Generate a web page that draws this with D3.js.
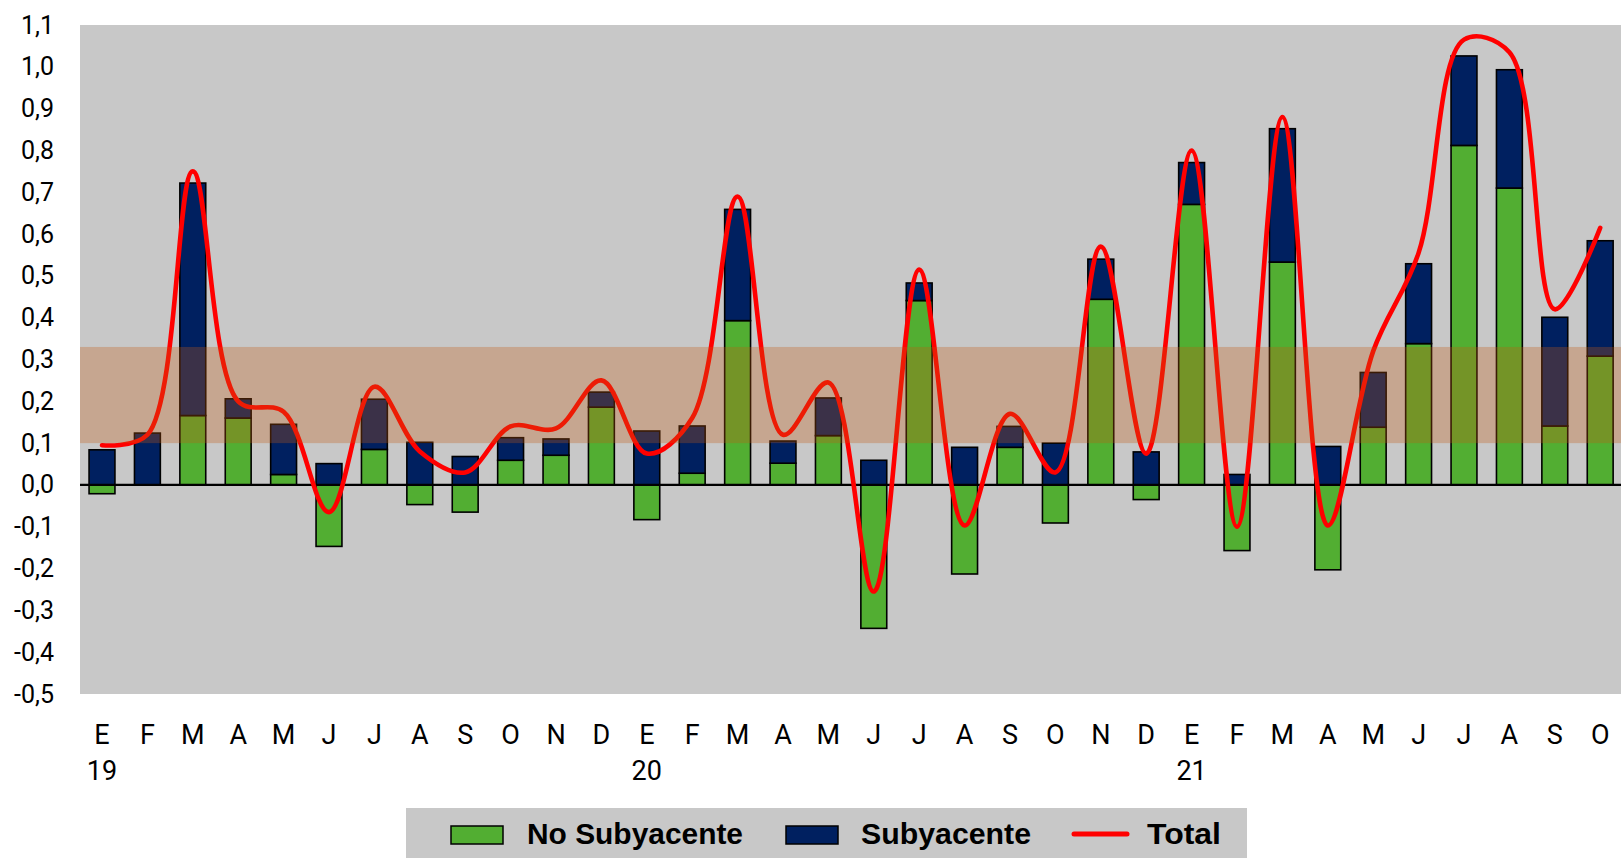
<!DOCTYPE html>
<html>
<head>
<meta charset="utf-8">
<title>Inflación: contribuciones</title>
<style>
  body { margin: 0; background: #fff; }
  svg { display: block; font-family: Roboto, "Noto Sans", sans-serif; }
  .axis text { fill: #000; }
  .legend text { font-family: "Liberation Sans Narrow", "Arial Narrow", "Liberation Sans", sans-serif; font-weight: bold; }
</style>
</head>
<body>
<svg width="1621" height="858"></svg>
<script src="https://cdn.jsdelivr.net/npm/d3@7"></script>
<script>

// months E19 .. O21
var months = ["E","F","M","A","M","J","J","A","S","O","N","D",
              "E","F","M","A","M","J","J","A","S","O","N","D",
              "E","F","M","A","M","J","J","A","S","O"];
var years = ["19", "20", "21"];
var yearIndex = [0, 12, 24];

var noSubyacente = [-0.021, 0.000, 0.166, 0.160, 0.025, -0.147, 0.085, -0.047, -0.065, 0.059, 0.071, 0.186,
                    -0.083, 0.028, 0.393, 0.052, 0.118, -0.343, 0.441, -0.213, 0.090, -0.091, 0.444, -0.035,
                    0.671, -0.157, 0.533, -0.203, 0.138, 0.338, 0.812, 0.710, 0.141, 0.308];
var subyacente   = [0.084, 0.124, 0.556, 0.046, 0.120, 0.051, 0.120, 0.102, 0.068, 0.054, 0.039, 0.036,
                    0.129, 0.113, 0.266, 0.053, 0.090, 0.059, 0.042, 0.090, 0.050, 0.100, 0.096, 0.079,
                    0.100, 0.025, 0.319, 0.092, 0.131, 0.191, 0.214, 0.283, 0.260, 0.276];
var total        = [0.095, 0.120, 0.750, 0.200, 0.175, -0.065, 0.235, 0.080, 0.030, 0.140, 0.135, 0.250,
                    0.075, 0.160, 0.690, 0.120, 0.245, -0.255, 0.515, -0.097, 0.170, 0.030, 0.570, 0.075,
                    0.800, -0.100, 0.880, -0.097, 0.320, 0.555, 1.065, 1.035, 0.420, 0.615];

var yTicks = [-0.5, -0.4, -0.3, -0.2, -0.1, 0.0, 0.1, 0.2, 0.3, 0.4, 0.5, 0.6, 0.7, 0.8, 0.9, 1.0, 1.1];
var targetRange = [0.1, 0.33];

var svg = d3.select("svg"),
    plot = {left: 80, right: 1621, top: 25, bottom: 694};

var green = "#52ae32", navy = "#002060", grey = "#c8c8c8";

var x = d3.scaleBand()
    .domain(d3.range(months.length))
    .range([79.3, 1622.9])
    .paddingInner(0.43)
    .paddingOuter(0.215);

var y = d3.scaleLinear()
    .domain([-0.5, 1.1])
    .range([plot.bottom, plot.top]);

var es = d3.formatLocale({decimal: ",", thousands: ".", grouping: [3], currency: ["", ""], minus: "-"});
var fmt = es.format(".1f");

// plot background
svg.append("rect")
    .attr("x", plot.left)
    .attr("y", plot.top)
    .attr("width", plot.right - plot.left)
    .attr("height", plot.bottom - plot.top)
    .attr("fill", grey);

// stacked bars
var table = months.map(function(m, i) {
  return {i: i, noSub: noSubyacente[i], sub: subyacente[i]};
});
var series = d3.stack()
    .keys(["noSub", "sub"])
    .offset(d3.stackOffsetDiverging)(table);
var colour = {noSub: green, sub: navy};

svg.append("g")
  .selectAll("g")
  .data(series)
  .join("g")
    .attr("fill", function(d) { return colour[d.key]; })
  .selectAll("rect")
  .data(function(d) { return d; })
  .join("rect")
    .attr("x", function(d) { return x(d.data.i); })
    .attr("y", function(d) { return y(Math.max(d[0], d[1])); })
    .attr("width", x.bandwidth())
    .attr("height", function(d) { return Math.abs(y(d[0]) - y(d[1])); })
    .attr("stroke", "#000")
    .attr("stroke-width", 1.6);

// zero line
svg.append("line")
    .attr("x1", plot.left)
    .attr("x2", plot.right)
    .attr("y1", y(0))
    .attr("y2", y(0))
    .attr("stroke", "#000")
    .attr("stroke-width", 2.2);

// total, smoothed
var line = d3.line()
    .x(function(d, i) { return x(i) + x.bandwidth() / 2; })
    .y(function(d) { return y(d); })
    .curve(d3.curveCatmullRom.alpha(0.5));

svg.append("path")
    .datum(total)
    .attr("d", line)
    .attr("fill", "none")
    .attr("stroke", "#ff0000")
    .attr("stroke-width", 4.6)
    .attr("stroke-linecap", "round");

// target band, laid over everything
svg.append("rect")
    .attr("x", plot.left)
    .attr("width", plot.right - plot.left)
    .attr("y", y(targetRange[1]))
    .attr("height", y(targetRange[0]) - y(targetRange[1]))
    .attr("fill", "#c55a11")
    .attr("fill-opacity", 0.3);

// y axis labels
svg.append("g")
    .attr("class", "axis")
    .attr("transform", "translate(" + plot.left + ",0)")
    .call(d3.axisLeft(y).tickValues(yTicks).tickFormat(fmt).tickSize(0).tickPadding(26))
    .call(function(g) { g.select(".domain").remove(); })
    .selectAll("text")
    .attr("font-family", "Roboto, sans-serif")
    .attr("font-size", 25);

// x axis labels
svg.append("g")
    .attr("class", "axis")
    .attr("transform", "translate(0," + plot.bottom + ")")
    .call(d3.axisBottom(x).tickFormat(function(i) { return months[i]; }).tickSize(0).tickPadding(31))
    .call(function(g) { g.select(".domain").remove(); })
    .selectAll("text")
    .attr("font-family", "Roboto, sans-serif")
    .attr("font-size", 27);

svg.append("g")
    .attr("class", "axis")
  .selectAll("text")
  .data(years)
  .join("text")
    .attr("x", function(d, k) { return x(yearIndex[k]) + x.bandwidth() / 2; })
    .attr("y", 780)
    .attr("text-anchor", "middle")
    .attr("font-family", "Roboto, sans-serif")
    .attr("font-size", 27)
    .text(function(d) { return d; });

// legend
var legend = svg.append("g").attr("class", "legend");

legend.append("rect")
    .attr("x", 406)
    .attr("y", 808)
    .attr("width", 841)
    .attr("height", 50)
    .attr("fill", grey);

var items = [
  {name: "No Subyacente", kind: "bar", fill: green, sx: 451, tx: 527, tw: 216},
  {name: "Subyacente", kind: "bar", fill: navy, sx: 786, tx: 861, tw: 170},
  {name: "Total", kind: "line", fill: "#ff0000", sx: 1074, tx: 1147, tw: 74}
];

items.forEach(function(it) {
  if (it.kind === "bar") {
    legend.append("rect")
        .attr("x", it.sx)
        .attr("y", 826)
        .attr("width", 52)
        .attr("height", 18)
        .attr("fill", it.fill)
        .attr("stroke", "#000")
        .attr("stroke-width", 1.5);
  } else {
    legend.append("line")
        .attr("x1", it.sx)
        .attr("x2", it.sx + 53)
        .attr("y1", 834)
        .attr("y2", 834)
        .attr("stroke", it.fill)
        .attr("stroke-width", 5)
        .attr("stroke-linecap", "round");
  }
  legend.append("text")
      .attr("x", it.tx)
      .attr("y", 844)
      .attr("font-size", 30)
      .attr("textLength", it.tw)
      .attr("lengthAdjust", "spacingAndGlyphs")
      .text(it.name);
});

</script>
</body>
</html>
